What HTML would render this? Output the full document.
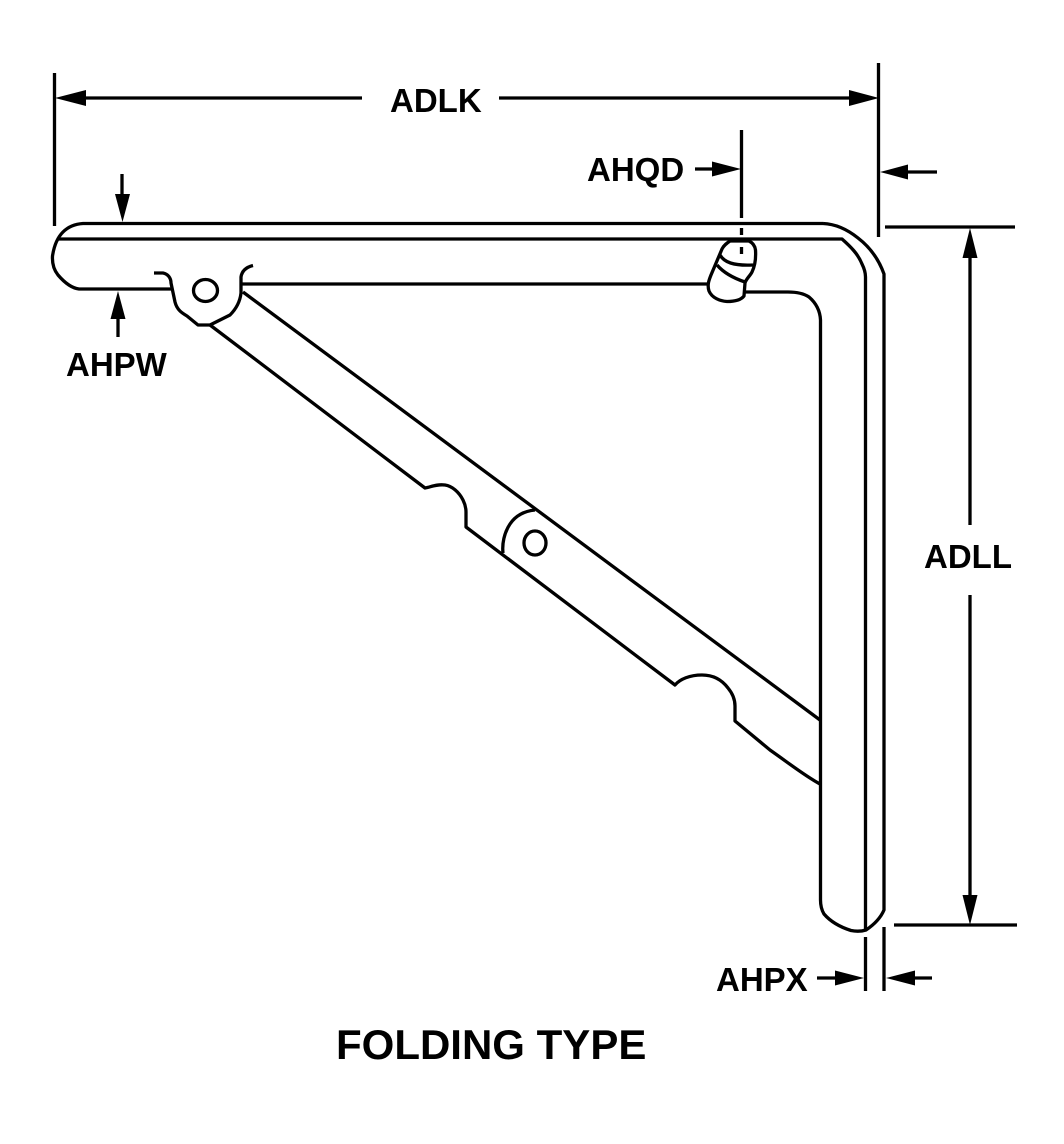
<!DOCTYPE html>
<html><head><meta charset="utf-8"><style>
html,body{margin:0;padding:0;background:#fff;width:1064px;height:1144px;overflow:hidden}
svg{display:block}
text{font-family:"Liberation Sans",sans-serif;font-weight:bold;fill:#000}
</style></head><body>
<svg width="1064" height="1144" viewBox="0 0 1064 1144" xmlns="http://www.w3.org/2000/svg">
<g fill="none" stroke="#000" stroke-width="3.300" stroke-linejoin="round">
<!-- bracket -->
<path d="M823 223.500H83C75 224 68 227 63 232C57 238 54 246 52.500 256C52 264 54 270 58 275C64 282 71 288 79 289H172"/>
<path d="M57 239H842C851 247 858 254 862 264C864 268 865.500 272 865.500 277V931"/>
<path d="M823 223.500C836 224 848 230 858 238C871 248 879 260 884 274V910C881 917 875 924 866 930C861 931.500 856 931.500 851 930.500C840 927 830 921 824 914C821 909 820.500 905 820.500 900V320C820 310 816 303 809 297C803 293 796 292 788 292H745"/>
<!-- hinge -->
<path d="M154 273H163C168 274 171 278 171 283L175 302C177 310 182 313 187 316L198 325H210L230 315C236 309 240 302 241 293V277C242 270 247 267 253 265.500"/>
<path d="M242 284H708"/>
<ellipse cx="205.500" cy="290.500" rx="12" ry="11"/>
<!-- arm -->
<path d="M243 292L820 720"/>
<path d="M210 325L425 488C431 487 436 484 445 485C452 486 459 492 463 500C465 504 466 507 466 512V527L675 685C680 679 690 675 702 675C713 675 722 680 728 688C733 694 735 700 735 706V721L770 750C790 764 805 776 820 784"/>
<path d="M503 553C502 544 504 533 510 524C516 515 525 511 535 510"/>
<ellipse cx="535" cy="543" rx="11" ry="12"/>
<!-- stud -->
<path d="M730 241H749C753 243 755 246 755.500 250C756 258 755 266 752 272C750 276 746 279 745 283L744 296C741 300 735 301.500 727 301.500C720 301 712 298 709 291C707 285 709 280 711 275L722 249C724 245 727 243 730 241Z"/>
<path d="M720 255C724 262 733 266 753 265"/>
<path d="M717 265C723 272 733 278 745 282"/>
<!-- dimension lines -->
<path d="M54.500 73V226"/>
<path d="M878.500 63V237"/>
<path d="M741.500 130V218M741.500 228V235M741.500 247V254"/>
<path d="M885 227H1015"/>
<path d="M894 925H1017"/>
<path d="M865.500 937V991"/>
<path d="M884 927V991"/>
<path d="M86 98H362M499 98H850"/>
<path d="M695 169H712"/>
<path d="M905 172H937"/>
<path d="M122 174V196"/>
<path d="M118 318V337"/>
<path d="M970 258V525M970 595V895"/>
<path d="M817 978H835"/>
<path d="M915 978H932"/>
</g>
<g fill="#000" stroke="none">
<path d="M55 98L86 90V106Z"/>
<path d="M879 98L849 90V106Z"/>
<path d="M741 169L712 161.500V176.500Z"/>
<path d="M880 172L908 164.500V179.500Z"/>
<path d="M122.500 222L115 194H130Z"/>
<path d="M118 291L110.500 319H125.500Z"/>
<path d="M970 228L962.500 258H977.500Z"/>
<path d="M970 925L962.500 895H977.500Z"/>
<path d="M864 978L835 970.500V985.500Z"/>
<path d="M886 978L915 970.500V985.500Z"/>
</g>
<text x="390" y="112" font-size="33">ADLK</text>
<text x="587" y="181" font-size="33">AHQD</text>
<text x="66" y="376" font-size="33">AHPW</text>
<text x="924" y="568" font-size="33">ADLL</text>
<text x="716" y="991" font-size="33">AHPX</text>
<text x="336" y="1059" font-size="42">FOLDING TYPE</text>
</svg>
</body></html>
